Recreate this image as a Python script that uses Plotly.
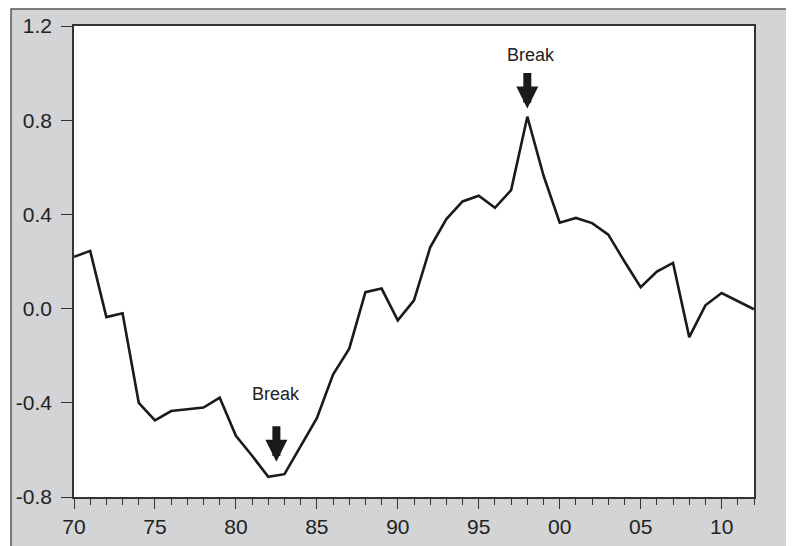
import plotly.graph_objects as go

years = [1970, 1971, 1972, 1973, 1974, 1975, 1976, 1977, 1978, 1979,
         1980, 1981, 1982, 1983, 1984, 1985, 1986, 1987, 1988, 1989,
         1990, 1991, 1992, 1993, 1994, 1995, 1996, 1997, 1998, 1999,
         2000, 2001, 2002, 2003, 2004, 2005, 2006, 2007, 2008, 2009,
         2010, 2011, 2012]
values = [0.22, 0.245, -0.036, -0.02, -0.40, -0.475, -0.435, -0.428, -0.42, -0.378,
          -0.54, -0.625, -0.714, -0.703, -0.585, -0.465, -0.28, -0.17, 0.07, 0.085,
          -0.05, 0.035, 0.26, 0.38, 0.455, 0.479, 0.428, 0.503, 0.815, 0.565,
          0.365, 0.385, 0.363, 0.314, 0.20, 0.091, 0.157, 0.194, -0.121, 0.014,
          0.066, 0.032, -0.003]

x_tickvals = [1970, 1975, 1980, 1985, 1990, 1995, 2000, 2005, 2010]
x_ticktext = ["70", "75", "80", "85", "90", "95", "00", "05", "10"]
y_tickvals = [-0.8, -0.4, 0.0, 0.4, 0.8, 1.2]
y_ticktext = ["-0.8", "-0.4", "0.0", "0.4", "0.8", "1.2"]

break_years = [1982.5, 1998.0]
break_tips = [-0.65, 0.85]
break_label_x = [1982.45, 1998.2]
break_label_y = [-0.363, 1.077]
break_label = "Break"

# page body has an 8px offset; size the figure to fit inside the window
OFF = 8
W, H = 794 - OFF, 546 - OFF
L, T = 74 - OFF, 26 - OFF
pw, ph = 680, 471
R, B = W - L - pw, H - T - ph

fig = go.Figure()
fig.add_trace(go.Scatter(x=years, y=values, mode="lines",
                         line=dict(color="#1a1a1a", width=2.6),
                         hoverinfo="skip", showlegend=False))

# gray panel with frame, then white plot area
fig.add_shape(type="rect", xref="paper", yref="paper",
              x0=(11 - OFF - L) / pw, x1=(W + 10 - L) / pw,
              y0=-(B + 10) / ph, y1=1 + (T - 1) / ph,
              fillcolor="#d3d4d6", line=dict(color="#555555", width=1.5), layer="below")
fig.add_shape(type="rect", xref="paper", yref="paper", x0=0, x1=1, y0=0, y1=1,
              fillcolor="white", line=dict(width=0), layer="below")

for bx, by, lx, ly in zip(break_years, break_tips, break_label_x, break_label_y):
    fig.add_annotation(x=bx, y=by, ax=0, ay=-37, axref="pixel", ayref="pixel",
                       showarrow=True, arrowhead=2, arrowwidth=8, arrowsize=0.55,
                       arrowcolor="#1a1a1a", text="", xref="x", yref="y")
    fig.add_annotation(x=lx, y=ly, xref="x", yref="y",
                       text=break_label, showarrow=False,
                       font=dict(family="Liberation Sans, Arial", size=18, color="#222222"))

fig.update_xaxes(range=[1970, 2012], tickvals=x_tickvals, ticktext=x_ticktext,
                 ticks="outside", ticklen=10, tickwidth=1.3, tickcolor="#333333",
                 showline=True, linecolor="#333333", linewidth=1.5, mirror=True,
                 showgrid=False, zeroline=False, automargin=False,
                 minor=dict(dtick=1, tick0=1970, ticks="outside", ticklen=6,
                            tickwidth=1.2, tickcolor="#333333", showgrid=False),
                 tickfont=dict(family="Liberation Sans, Arial", size=21, color="#222222"))
fig.update_yaxes(range=[-0.8, 1.2], tickvals=y_tickvals, ticktext=y_ticktext,
                 ticks="outside", ticklen=11, tickwidth=1.3, tickcolor="#333333",
                 showline=True, linecolor="#333333", linewidth=1.5, mirror=True,
                 showgrid=False, zeroline=False, ticklabelstandoff=5, automargin=False,
                 tickfont=dict(family="Liberation Sans, Arial", size=21, color="#222222"))

fig.update_layout(width=W, height=H, margin=dict(l=L, r=R, t=T, b=B),
                  paper_bgcolor="white", plot_bgcolor="white", showlegend=False)

fig.write_html("out.html")
